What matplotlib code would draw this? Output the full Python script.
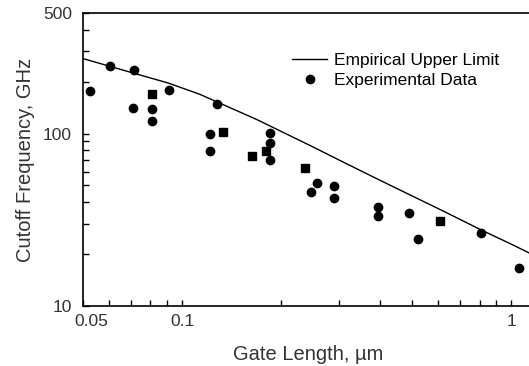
import numpy as np
import matplotlib
matplotlib.use("Agg")
import matplotlib.pyplot as plt
from matplotlib.ticker import FixedLocator, NullFormatter
import matplotlib.transforms as mtransforms

plt.rcParams['font.family'] = ['Liberation Sans', 'DejaVu Sans']

# empirical upper limit curve
limit_x = [0.05, 0.07, 0.0909, 0.1134, 0.1684, 0.25, 0.305, 0.4074,
           0.5, 0.619, 0.809, 1.0, 1.12, 1.16]
limit_y = [272, 226, 196, 168.5, 120.6, 83.5, 69, 52.5,
           43.4, 35.6, 27.6, 22.8, 20.5, 19.8]

# experimental data, round markers
circ_x = [0.0524, 0.0605, 0.0712, 0.0709, 0.0811, 0.0811, 0.0915, 0.1277,
          0.1218, 0.1218, 0.1848, 0.1848, 0.1848, 0.257, 0.247, 0.2888,
          0.2888, 0.3945, 0.3945, 0.4885, 0.5215, 0.809, 1.055]
circ_y = [176, 245, 234, 140, 138, 118, 180, 149,
          100, 79, 101, 88, 70.6, 52, 45.6, 49.4,
          42.5, 37.6, 33.4, 34.6, 24.4, 26.5, 16.6]

# experimental data, square markers
sq_x = [0.0811, 0.1328, 0.1794, 0.1633, 0.2364, 0.605]
sq_y = [168.5, 102, 79.6, 73.8, 63.2, 31.3]

x_major = [0.05, 0.1, 1]
x_minor = [0.06, 0.07, 0.08, 0.09, 0.2, 0.3, 0.4, 0.5, 0.6, 0.7, 0.8, 0.9]
y_major = [10, 100, 500]
y_minor = [20, 30, 40, 50, 60, 70, 80, 90, 200, 300, 400]

fig = plt.figure(figsize=(5.29, 3.66), dpi=100)
ax = fig.add_axes([0.157, 0.164, 0.85, 0.8005])

ax.plot(limit_x, limit_y, color='black', lw=1.0, label='Empirical Upper Limit')
ax.plot(circ_x, circ_y, 'o', color='black', ms=6, label='Experimental Data')
ax.plot(sq_x, sq_y, 's', color='black', ms=5.5)

ax.set_xscale('log')
ax.set_yscale('log')
ax.set_xlim(0.05, 1.16)
ax.set_ylim(10, 500)

ax.xaxis.set_major_locator(FixedLocator(x_major))
ax.xaxis.set_minor_locator(FixedLocator(x_minor))
ax.yaxis.set_major_locator(FixedLocator(y_major))
ax.yaxis.set_minor_locator(FixedLocator(y_minor))
ax.set_xticklabels(['0.05', '0.1', '1'])
ax.set_yticklabels(['10', '100', '500'])
ax.xaxis.set_minor_formatter(NullFormatter())
ax.yaxis.set_minor_formatter(NullFormatter())

ax.tick_params(which='both', direction='in', length=4, width=1,
               labelsize=12.5, colors='black', labelcolor='#333333')
ax.tick_params(axis='x', pad=6)
ax.tick_params(axis='y', pad=8)
ax.tick_params(top=False, right=False, which='both')

# nudge the 0.05 label right so it clears the 10
lbl = ax.get_xticklabels()[0]
lbl.set_transform(lbl.get_transform() +
                  mtransforms.ScaledTranslation(8 / 100, 0, fig.dpi_scale_trans))

for s in ['left', 'bottom', 'top']:
    ax.spines[s].set_linewidth(1.2)
ax.spines['right'].set_visible(False)

ax.set_xlabel('Gate Length, µm', fontsize=14.5, color='#333333', labelpad=11)
ax.set_ylabel('Cutoff Frequency, GHz', fontsize=14.5, color='#333333', labelpad=6)

ax.legend(loc='upper left', bbox_to_anchor=(0.446, 0.895), frameon=False,
          fontsize=12.5, handlelength=2.0, handletextpad=0.4,
          labelspacing=0.3, borderpad=0)

fig.savefig('out.png', dpi=100)
